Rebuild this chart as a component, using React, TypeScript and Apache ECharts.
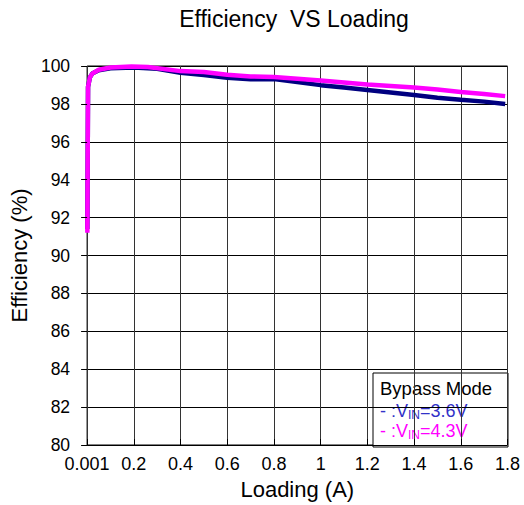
import React, { useEffect, useRef } from "react";
import * as echarts from "echarts";

const FONT = "'Liberation Sans', Arial, sans-serif";

const titleText = "Efficiency  VS Loading";
const xName = "Loading (A)";
const yName = "Efficiency (%)";

// Load (A) for VIN = 3.6V
const load36 = [0.001, 0.004, 0.012, 0.022, 0.05, 0.1, 0.2, 0.3, 0.4, 0.5, 0.6, 0.7, 0.8, 0.9, 1.0, 1.1, 1.2, 1.3, 1.4, 1.5, 1.6, 1.7, 1.79];
const eff36 = [91.4, 98.9, 99.4, 99.6, 99.78, 99.88, 99.92, 99.85, 99.64, 99.52, 99.38, 99.3, 99.31, 99.15, 98.99, 98.86, 98.73, 98.6, 98.47, 98.33, 98.22, 98.12, 98.0];

// Load (A) for VIN = 4.3V
const load43 = [0.001, 0.004, 0.012, 0.022, 0.05, 0.1, 0.19, 0.26, 0.4, 0.5, 0.6, 0.7, 0.8, 0.9, 1.0, 1.1, 1.2, 1.3, 1.4, 1.5, 1.6, 1.7, 1.79];
const eff43 = [91.2, 98.9, 99.4, 99.6, 99.8, 99.92, 99.98, 99.95, 99.73, 99.68, 99.54, 99.45, 99.42, 99.33, 99.23, 99.13, 99.02, 98.94, 98.86, 98.76, 98.63, 98.52, 98.41];

const xMin = 0;
const xMax = 1.8;
const xStep = 0.2;
const xFirstLabel = "0.001";
const yMin = 80;
const yMax = 100;
const yStep = 2;

const legendTitle = "Bypass Mode";
const legend36 = "3.6V";
const legend43 = "4.3V";

export default function App() {
  const ref = useRef<HTMLDivElement>(null);
  useEffect(() => {
    document.body.style.margin = "0";
    if (!ref.current) return;
    const chart = echarts.init(ref.current, null, { renderer: "svg" });
    const subRich = (color: string) => ({
      a: { fontSize: 18, fill: color, fontFamily: FONT, lineHeight: 20, verticalAlign: "middle" },
      s: { fontSize: 12, fill: color, fontFamily: FONT, lineHeight: 20, verticalAlign: "bottom" },
    });
    const opt: any = {
      animation: false,
      backgroundColor: "#fff",
      title: {
        text: titleText,
        left: 294,
        top: 7,
        padding: 0,
        textAlign: "center",
        textStyle: { fontSize: 23, fontWeight: "normal", color: "#000", fontFamily: FONT },
      },
      grid: {
        left: 86.5,
        right: 16.5,
        top: 66,
        bottom: 58,
        show: true,
        borderColor: "#000",
        borderWidth: 1,
        backgroundColor: "transparent",
      },
      xAxis: [
        {
          type: "value",
          min: xMin,
          max: xMax,
          interval: xStep,
          position: "bottom",
          axisLine: { show: false },
          axisTick: { show: false },
          splitLine: { show: true, lineStyle: { color: "#333", width: 1 } },
          axisLabel: {
            fontSize: 18,
            color: "#000",
            fontFamily: FONT,
            margin: 10,
            formatter: (v: number) => (v === 0 ? xFirstLabel : String(Math.round(v * 10) / 10)),
          },
          name: xName,
          nameLocation: "middle",
          nameGap: 33,
          nameTextStyle: { fontSize: 22, color: "#000", fontFamily: FONT },
        },
        {
          type: "value",
          min: xMin,
          max: xMax,
          interval: xStep,
          position: "bottom",
          offset: 0,
          z: 10,
          axisLine: { show: false },
          axisLabel: { show: false },
          splitLine: { show: false },
          axisTick: { show: true, inside: true, length: 6, lineStyle: { color: "#000", width: 1 } },
        },
      ],
      yAxis: [
        {
          type: "value",
          min: yMin,
          max: yMax,
          interval: yStep,
          position: "left",
          axisLine: { show: false },
          axisTick: { show: false },
          splitLine: { show: true, lineStyle: { color: "#000", width: 1 } },
          axisLabel: { fontSize: 17.5, color: "#000", fontFamily: FONT, margin: 17 },
          name: yName,
          nameLocation: "middle",
          nameGap: 57,
          nameTextStyle: { fontSize: 22, color: "#000", fontFamily: FONT },
        },
        {
          type: "value",
          min: yMin,
          max: yMax,
          interval: yStep,
          position: "right",
          offset: 0,
          z: 10,
          axisLine: { show: false },
          axisLabel: { show: false },
          splitLine: { show: false },
          axisTick: { show: true, inside: true, length: 6, lineStyle: { color: "#000", width: 1 } },
        },
      ],
      series: [
        {
          type: "line",
          name: "VIN=3.6V",
          xAxisIndex: 0,
          yAxisIndex: 0,
          data: load36.map((x, i) => [x, eff36[i]]),
          symbol: "none",
          lineStyle: { color: "#000080", width: 4.5 },
          z: 2,
        },
        {
          type: "line",
          name: "VIN=4.3V",
          xAxisIndex: 0,
          yAxisIndex: 0,
          data: load43.map((x, i) => [x, eff43[i]]),
          symbol: "none",
          lineStyle: { color: "#ff00ff", width: 4.5 },
          z: 3,
        },
      ],
      graphic: [
        {
          type: "group",
          z: 5,
          children: [
            {
              type: "rect",
              shape: { x: 373, y: 373, width: 135, height: 74 },
              style: { fill: "#fff", stroke: "#000", lineWidth: 1 },
            },
            {
              type: "text",
              x: 380,
              y: 388,
              style: {
                text: legendTitle,
                fontSize: 18.5,
                fontFamily: FONT,
                fill: "#000",
                verticalAlign: "middle",
              },
            },
            {
              type: "text",
              x: 380,
              y: 401,
              style: {
                text: "{a|- :V}{s|IN}{a|=" + legend36 + "}",
                rich: subRich("#3232c8"),
                fill: "#3232c8",
                verticalAlign: "top",
              },
            },
            {
              type: "text",
              x: 380,
              y: 421,
              style: {
                text: "{a|- :V}{s|IN}{a|=" + legend43 + "}",
                rich: subRich("#ff00ff"),
                fill: "#ff00ff",
                verticalAlign: "top",
              },
            },
          ],
        },
      ],
    };
    chart.setOption(opt);
    return () => chart.dispose();
  }, []);
  return <div ref={ref} style={{ width: 524, height: 505 }} />;
}
